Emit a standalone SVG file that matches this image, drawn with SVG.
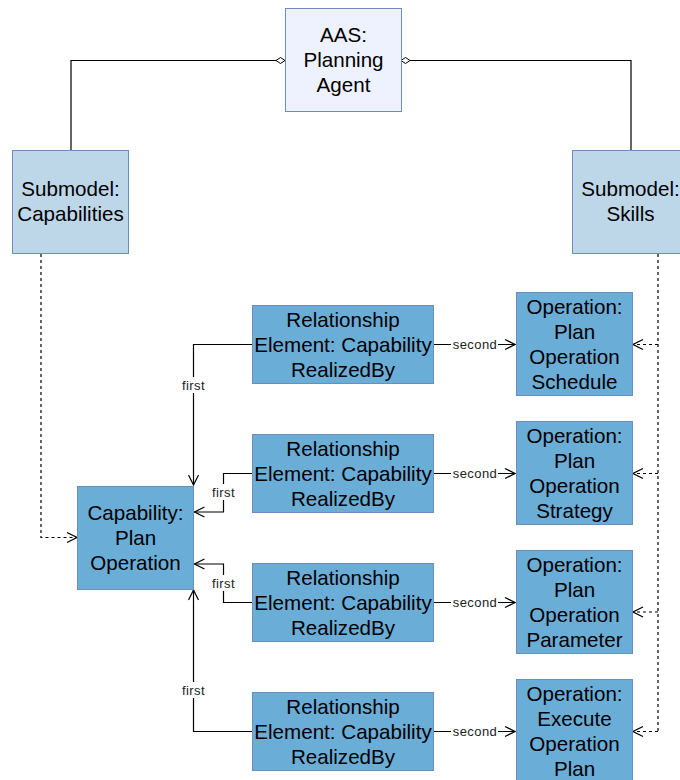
<svg xmlns="http://www.w3.org/2000/svg" width="680" height="780" viewBox="0 0 680 780">
  <style>
    .box { stroke: #6c8ebf; stroke-width: 1; }
    .aas { fill: #eef2fe; }
    .sm { fill: #bdd7e8; }
    .el { fill: #6aadd7; }
    .t { font-family: "Liberation Sans", Arial, sans-serif; font-size: 20.6px; fill: #000; text-anchor: middle; }
    .lbl { font-family: "Liberation Sans", Arial, sans-serif; font-size: 13px; letter-spacing: 0.4px; fill: #222; text-anchor: middle; }
    .lblbg { fill: #fff; }
    .ln { fill: none; stroke: #000; stroke-width: 1.2; }
    .dash { fill: none; stroke: #000; stroke-width: 1.2; stroke-dasharray: 3 3; }
  </style>
  <defs>
    <marker id="open" viewBox="0 0 12 12" refX="11" refY="6" markerWidth="12" markerHeight="12" markerUnits="userSpaceOnUse" orient="auto">
      <path d="M1,1 L11,6 L1,11" fill="none" stroke="#000" stroke-width="1.2"/>
    </marker>
    <marker id="diamond" viewBox="0 0 10 8" refX="9.5" refY="4" markerWidth="10" markerHeight="8" markerUnits="userSpaceOnUse" orient="auto">
      <path d="M0.5,4 L5,1 L9.5,4 L5,7 Z" fill="#fff" stroke="#000" stroke-width="1"/>
    </marker>
  </defs>

  <!-- connectors -->
  <g id="connectors">
    <!-- aggregation: AAS to submodels -->
    <path class="ln" d="M71,150 V60.5 H285" marker-end="url(#diamond)"/>
    <path class="ln" d="M631,150 V60.5 H401" marker-end="url(#diamond)"/>

    <!-- capability submodel to capability -->
    <path class="dash" d="M41,254 V537.5 H77" marker-end="url(#open)"/>

    <!-- skills submodel to operations -->
    <path class="dash" d="M658,254 V731.5"/>
    <path class="dash" d="M658,344.5 H633" marker-end="url(#open)"/>
    <path class="dash" d="M658,473.5 H633" marker-end="url(#open)"/>
    <path class="dash" d="M658,612 H633" marker-end="url(#open)"/>
    <path class="dash" d="M658,731.5 H633" marker-end="url(#open)"/>

    <!-- first: relationship to capability -->
    <path class="ln" d="M252,344.5 H193.5 V485" marker-end="url(#open)"/>
    <path class="ln" d="M252,473.5 H223.5 V512 H194.5" marker-end="url(#open)"/>
    <path class="ln" d="M252,602.5 H223.5 V564 H194.5" marker-end="url(#open)"/>
    <path class="ln" d="M252,731.5 H193.5 V590" marker-end="url(#open)"/>

    <!-- second: relationship to operation -->
    <path class="ln" d="M433,344.5 H515" marker-end="url(#open)"/>
    <path class="ln" d="M433,473.5 H515" marker-end="url(#open)"/>
    <path class="ln" d="M433,602.5 H515" marker-end="url(#open)"/>
    <path class="ln" d="M433,731.5 H515" marker-end="url(#open)"/>

    <!-- labels -->
    <rect class="lblbg" x="179" y="377" width="29" height="16"/>
    <text class="lbl" x="193.5" y="390">first</text>
    <rect class="lblbg" x="209" y="484" width="29" height="16"/>
    <text class="lbl" x="223.5" y="497">first</text>
    <rect class="lblbg" x="209" y="575" width="29" height="16"/>
    <text class="lbl" x="223.5" y="588">first</text>
    <rect class="lblbg" x="179" y="682" width="29" height="16"/>
    <text class="lbl" x="193.5" y="695">first</text>

    <rect class="lblbg" x="451" y="337" width="47" height="15"/>
    <text class="lbl" x="475" y="349">second</text>
    <rect class="lblbg" x="451" y="466" width="47" height="15"/>
    <text class="lbl" x="475" y="478">second</text>
    <rect class="lblbg" x="451" y="595" width="47" height="15"/>
    <text class="lbl" x="475" y="607">second</text>
    <rect class="lblbg" x="451" y="724" width="47" height="15"/>
    <text class="lbl" x="475" y="736">second</text>
  </g>

  <!-- asset administration shell -->
  <g id="aas">
    <rect class="box aas" x="285.5" y="8.5" width="116" height="103"/>
    <text class="t" x="343.5" y="42">AAS:</text>
    <text class="t" x="343.5" y="67">Planning</text>
    <text class="t" x="343.5" y="92">Agent</text>
  </g>

  <!-- submodels -->
  <g id="sm-capabilities">
    <rect class="box sm" x="12.5" y="150.5" width="116" height="103"/>
    <text class="t" x="70.5" y="196">Submodel:</text>
    <text class="t" x="70.5" y="221">Capabilities</text>
  </g>
  <g id="sm-skills">
    <rect class="box sm" x="572.5" y="150.5" width="116" height="103"/>
    <text class="t" x="630.5" y="196">Submodel:</text>
    <text class="t" x="630.5" y="221">Skills</text>
  </g>

  <!-- capability -->
  <g id="capability">
    <rect class="box el" x="77.5" y="486.5" width="116" height="103"/>
    <text class="t" x="135.5" y="520">Capability:</text>
    <text class="t" x="135.5" y="545">Plan</text>
    <text class="t" x="135.5" y="570">Operation</text>
  </g>

  <!-- relationship elements -->
  <g id="rel-1">
    <rect class="box el" x="252.5" y="305.5" width="181" height="78"/>
    <text class="t" x="343" y="327">Relationship</text>
    <text class="t" x="343" y="352">Element: Capability</text>
    <text class="t" x="343" y="377">RealizedBy</text>
  </g>
  <g id="rel-2">
    <rect class="box el" x="252.5" y="434.5" width="181" height="78"/>
    <text class="t" x="343" y="456">Relationship</text>
    <text class="t" x="343" y="481">Element: Capability</text>
    <text class="t" x="343" y="506">RealizedBy</text>
  </g>
  <g id="rel-3">
    <rect class="box el" x="252.5" y="563.5" width="181" height="78"/>
    <text class="t" x="343" y="585">Relationship</text>
    <text class="t" x="343" y="610">Element: Capability</text>
    <text class="t" x="343" y="635">RealizedBy</text>
  </g>
  <g id="rel-4">
    <rect class="box el" x="252.5" y="692.5" width="181" height="78"/>
    <text class="t" x="343" y="714">Relationship</text>
    <text class="t" x="343" y="739">Element: Capability</text>
    <text class="t" x="343" y="764">RealizedBy</text>
  </g>

  <!-- operations -->
  <g id="op-schedule">
    <rect class="box el" x="516.5" y="292.5" width="116" height="103"/>
    <text class="t" x="574.5" y="314">Operation:</text>
    <text class="t" x="574.5" y="339">Plan</text>
    <text class="t" x="574.5" y="364">Operation</text>
    <text class="t" x="574.5" y="389">Schedule</text>
  </g>
  <g id="op-strategy">
    <rect class="box el" x="516.5" y="421.5" width="116" height="103"/>
    <text class="t" x="574.5" y="443">Operation:</text>
    <text class="t" x="574.5" y="468">Plan</text>
    <text class="t" x="574.5" y="493">Operation</text>
    <text class="t" x="574.5" y="518">Strategy</text>
  </g>
  <g id="op-parameter">
    <rect class="box el" x="516.5" y="550.5" width="116" height="103"/>
    <text class="t" x="574.5" y="572">Operation:</text>
    <text class="t" x="574.5" y="597">Plan</text>
    <text class="t" x="574.5" y="622">Operation</text>
    <text class="t" x="574.5" y="647">Parameter</text>
  </g>
  <g id="op-execute">
    <rect class="box el" x="516.5" y="679.5" width="116" height="103"/>
    <text class="t" x="574.5" y="701">Operation:</text>
    <text class="t" x="574.5" y="726">Execute</text>
    <text class="t" x="574.5" y="751">Operation</text>
    <text class="t" x="574.5" y="776">Plan</text>
  </g>
</svg>
